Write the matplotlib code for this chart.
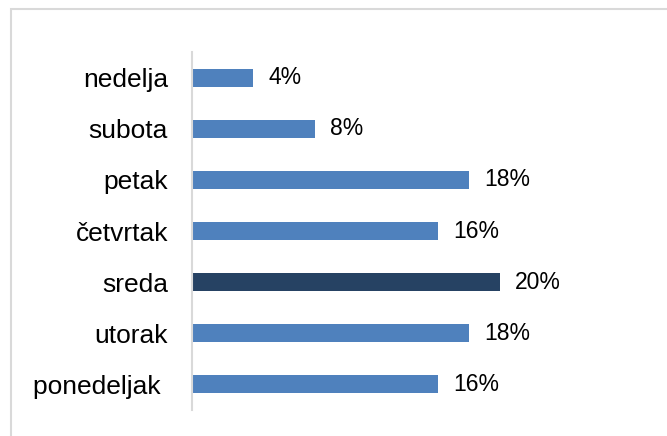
import matplotlib.pyplot as plt
from matplotlib.patches import Rectangle

# Data (bottom to top)
days = ["ponedeljak ", "utorak", "sreda", "četvrtak", "petak", "subota", "nedelja"]
shares = [0.16, 0.18, 0.20, 0.16, 0.18, 0.08, 0.04]
highlight = "sreda"

light = "#4F81BD"
dark = "#264263"

plt.rcParams["font.family"] = ["Liberation Sans", "DejaVu Sans"]

fig = plt.figure(figsize=(6.67, 4.36), dpi=100)
W, H = 667, 436
ax = fig.add_axes([191.5 / W, 1 - 410 / H, 462 / W, 358 / H])

colors = [dark if d == highlight else light for d in days]
ypos = list(range(len(days)))
ax.barh(ypos, shares, height=0.35, color=colors)

# Percentage labels
for y, v in zip(ypos, shares):
    ax.annotate(f"{v:.0%}", (v, y), xytext=(11, 0), textcoords="offset points",
                va="center", ha="left", fontsize=16.5, color="#000000")

ax.set_xlim(0, 0.30)
ax.set_ylim(-0.5, len(days) - 0.5)
ax.set_yticks(ypos)
ax.set_yticklabels(days, fontsize=19)
ax.tick_params(axis="y", length=0, pad=17)
ax.set_xticks([])

for s in ["top", "right", "bottom"]:
    ax.spines[s].set_visible(False)
ax.spines["left"].set_color("#D9D9D9")
ax.spines["left"].set_linewidth(1.5)

# Chart frame (only top and left edges visible in the crop)
fig.add_artist(Rectangle((10.5 / W, -0.1), 1.2, 1.1 - 9.5 / H,
                         transform=fig.transFigure, fill=False,
                         edgecolor="#D9D9D9", linewidth=1.5))

fig.savefig("out.png", dpi=100, facecolor="white")
